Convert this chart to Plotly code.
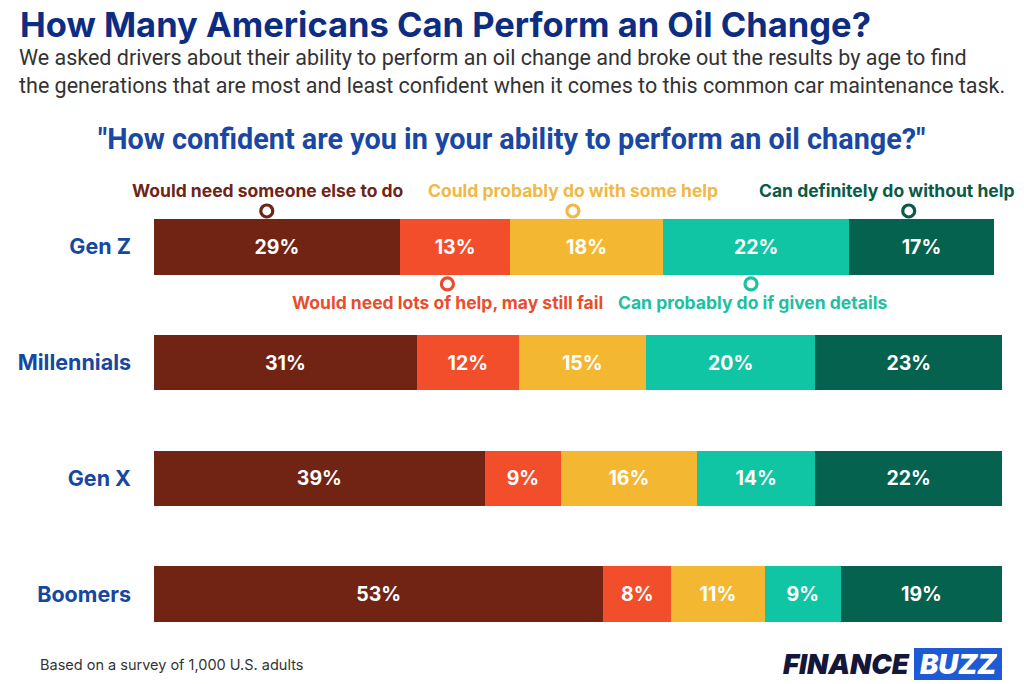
import plotly.graph_objects as go

generations = ["Gen Z", "Millennials", "Gen X", "Boomers"]
responses = [
    "Would need someone else to do",
    "Would need lots of help, may still fail",
    "Could probably do with some help",
    "Can probably do if given details",
    "Can definitely do without help",
]
# printed percentages
labels = {
    "Would need someone else to do": [29, 31, 39, 53],
    "Would need lots of help, may still fail": [13, 12, 9, 8],
    "Could probably do with some help": [18, 15, 16, 11],
    "Can probably do if given details": [22, 20, 14, 9],
    "Can definitely do without help": [17, 23, 22, 19],
}
# bar lengths as drawn (the Millennials last segment is drawn ~22 wide)
values = {
    "Would need someone else to do": [29, 31, 39, 53],
    "Would need lots of help, may still fail": [13, 12, 9, 8],
    "Could probably do with some help": [18, 15, 16, 11],
    "Can probably do if given details": [22, 20, 14, 9],
    "Can definitely do without help": [17, 22, 22, 19],
}
colors = ["#722414", "#F24E2B", "#F4B731", "#10C5A3", "#05624F"]
label_colors = ["#6E2416", "#E84E2E", "#F0B845", "#1DC0A0", "#0B5A48"]
marker_x = [13.3, 34.6, 49.4, 70.4, 89.0]
marker_y = [-0.31, 0.32, -0.31, 0.32, -0.31]

# screen geometry of the plot area (page is offset by 8px)
PX0, PX1, PY0, PY1 = 154, 1002, 189, 652
OFF = 8
def px(x):
    return (x - PX0) / (PX1 - PX0)
def py(y):
    return (PY1 - y) / (PY1 - PY0)

label_pos = [(268, 190), (447, 302), (573, 190), (752, 302), (887, 190)]

ypos = list(range(len(generations)))
fig = go.Figure()
for i, r in enumerate(responses):
    fig.add_trace(go.Bar(
        y=ypos, x=values[r], orientation="h", width=0.48,
        marker=dict(color=colors[i], line=dict(width=0)),
        text=[f"{v}%" for v in labels[r]], textposition="inside",
        insidetextanchor="middle", constraintext="none",
        textfont=dict(color="white", size=19.5, family="Inter", weight=700),
        hoverinfo="skip", showlegend=False,
    ))

for i, r in enumerate(responses):
    fig.add_trace(go.Scatter(
        x=[marker_x[i]], y=[marker_y[i]], mode="markers",
        marker=dict(symbol="circle", size=12, color="white",
                    line=dict(color=label_colors[i], width=3.2)),
        hoverinfo="skip", showlegend=False, cliponaxis=False,
    ))
    lx, ly = label_pos[i]
    fig.add_annotation(
        x=px(lx), y=py(ly), xref="paper", yref="paper",
        text=r, showarrow=False, xanchor="center", yanchor="middle",
        font=dict(family="Inter", size=17.5, color=label_colors[i], weight=700),
    )

fig.update_layout(
    width=1024, height=684,
    margin=dict(l=PX0 - OFF, r=1024 - (PX1 - OFF), t=PY0 - OFF, b=684 - (PY1 - OFF)),
    barmode="stack", plot_bgcolor="white", paper_bgcolor="white",
    xaxis=dict(range=[0, 100], visible=False, fixedrange=True, automargin=False),
    yaxis=dict(range=[3.5, -0.5], tickvals=ypos, ticktext=generations,
               showgrid=False, zeroline=False, showline=False, ticks="",
               ticklabelstandoff=22, fixedrange=True, automargin=False,
               tickfont=dict(family="Inter", size=21.5, color="#1748A0", weight=700)),
)

fig.add_annotation(x=px(18), y=py(24), xref="paper", yref="paper",
                   text="How Many Americans Can Perform an Oil Change?",
                   showarrow=False, xanchor="left", yanchor="middle",
                   font=dict(family="Inter", size=34.5, color="#0D2D82", weight=700))
fig.add_annotation(x=px(17), y=py(72), xref="paper", yref="paper",
                   text="We asked drivers about their ability to perform an oil change and broke out the results by age to find<br>the generations that are most and least confident when it comes to this common car maintenance task.",
                   showarrow=False, xanchor="left", yanchor="middle", align="left",
                   font=dict(family="Roboto", size=21.5, color="#333333"))
fig.add_annotation(x=px(511), y=py(139), xref="paper", yref="paper",
                   text="\"How confident are you in your ability to perform an oil change?\"",
                   showarrow=False, xanchor="center", yanchor="middle",
                   font=dict(family="Roboto", size=28.8, color="#1A47A2", weight=700))
fig.add_annotation(x=px(38), y=py(664), xref="paper", yref="paper",
                   text="Based on a survey of 1,000 U.S. adults",
                   showarrow=False, xanchor="left", yanchor="middle",
                   font=dict(family="Inter", size=14.5, color="#333333"))
# logo
fig.add_shape(type="rect", xref="paper", yref="paper",
              x0=px(914), x1=px(1002), y0=py(680), y1=py(648),
              fillcolor="#1E5AD6", line=dict(width=0))
fig.add_annotation(x=px(912), y=py(664), xref="paper", yref="paper",
                   text="<i>FINANCE</i>", showarrow=False, xanchor="right", yanchor="middle",
                   font=dict(family="Inter", size=27.5, color="#14163A", weight=900))
fig.add_annotation(x=px(958), y=py(664), xref="paper", yref="paper",
                   text="<i>BUZZ</i>", showarrow=False, xanchor="center", yanchor="middle",
                   font=dict(family="Inter", size=27.5, color="white", weight=900))

fig.write_html("out.html")
